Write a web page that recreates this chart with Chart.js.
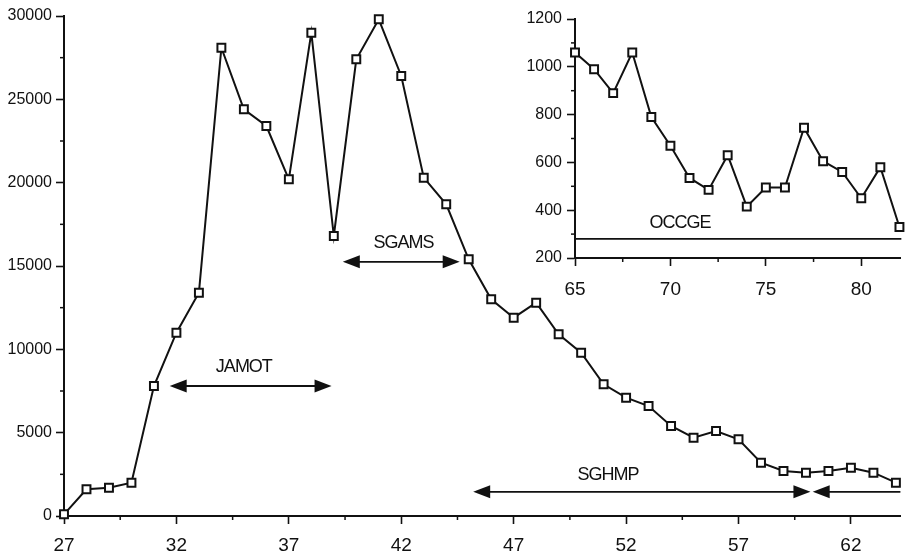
<!DOCTYPE html>
<html>
<head>
<meta charset="utf-8">
<script src="https://cdn.jsdelivr.net/npm/chart.js@4.4.1/dist/chart.umd.min.js"></script>
<style>
  html, body { margin: 0; padding: 0; background: #fff; }
  #wrap { position: relative; width: 908px; height: 556px; }
  #mainChart { position: absolute; left: 0; top: 0; }
  #insetChart { position: absolute; left: 500px; top: 0; }
</style>
</head>
<body>
<div id="wrap">
  <canvas id="mainChart" width="908" height="556"></canvas>
  <canvas id="insetChart" width="408" height="300"></canvas>
</div>
<script>
// main series (years 27..64)
const mainYears = [27, 28, 29, 30, 31, 32, 33, 34, 35, 36, 37, 38, 39, 40, 41, 42, 43, 44, 45,
  46, 47, 48, 49, 50, 51, 52, 53, 54, 55, 56, 57, 58, 59, 60, 61, 62, 63, 64];
const mainCases = [100, 1600, 1700, 2000, 7800, 11000, 13400, 28100, 24400, 23400, 20200, 29000,
  16800, 27400, 29800, 26400, 20300, 18700, 15400, 13000, 11900, 12800, 10900, 9800, 7900, 7100,
  6600, 5400, 4700, 5100, 4600, 3200, 2700, 2600, 2700, 2900, 2600, 2000];
const mainXTicks = [27, 32, 37, 42, 47, 52, 57, 62];

// inset series (years 65..82)
const insetYears = [65, 66, 67, 68, 69, 70, 71, 72, 73, 74, 75, 76, 77, 78, 79, 80, 81, 82];
const insetCases = [1060, 990, 890, 1060, 790, 670, 535, 485, 630, 415, 495, 495, 745, 605, 560,
  450, 580, 330];
const insetXTicks = [65, 70, 75, 80];

// period arrows, in data units
const mainArrows = [
  { from: 31.7, to: 38.9, y: 7800, left: true, right: true },
  { from: 39.4, to: 44.6, y: 15250, left: true, right: true },
  { from: 45.2, to: 60.2, y: 1450, left: true, right: true },
  { from: 60.3, to: 64.2, y: 1450, left: true, right: false },
];
const mainLabels = [
  { text: "JAMOT", x: 35.0, y: 8950 },
  { text: "SGAMS", x: 42.1, y: 16350 },
  { text: "SGHMP", x: 51.2, y: 2480 },
];
const insetArrows = [{ from: 65, to: 82.1, y: 280, left: false, right: false }];
const insetLabels = [{ text: "OCCGE", x: 70.5, y: 348 }];

const INK = "#111";
const FONT = "'Liberation Sans', Arial, sans-serif";

// short outward ticks half way between the labelled ones
const minorTicks = {
  id: "minorTicks",
  afterDraw(chart) {
    const { ctx } = chart;
    ctx.save();
    ctx.strokeStyle = INK;
    ctx.lineWidth = 1.5;
    ["x", "y"].forEach((id) => {
      const s = chart.scales[id];
      const t = s.ticks.map((k) => k.value);
      const step = t[1] - t[0];
      for (let v = t[0] + step / 2; v <= s.max; v += step) {
        const p = s.getPixelForValue(v);
        ctx.beginPath();
        if (id === "x") {
          ctx.moveTo(p, s.top);
          ctx.lineTo(p, s.top + 4);
        } else {
          ctx.moveTo(s.right, p);
          ctx.lineTo(s.right - 4, p);
        }
        ctx.stroke();
      }
    });
    ctx.restore();
  },
};

const arrows = {
  id: "arrows",
  afterDatasetsDraw(chart, args, opts) {
    const { ctx } = chart;
    const x = chart.scales.x, y = chart.scales.y;
    const hl = 17, hh = 6.5;
    ctx.save();
    ctx.strokeStyle = INK;
    ctx.fillStyle = INK;
    ctx.lineWidth = 1.8;
    (opts.items || []).forEach((a) => {
      const x1 = x.getPixelForValue(a.from);
      const x2 = x.getPixelForValue(a.to);
      const py = y.getPixelForValue(a.y);
      ctx.beginPath();
      ctx.moveTo(x1 + (a.left ? hl - 2 : 0), py);
      ctx.lineTo(x2 - (a.right ? hl - 2 : 0), py);
      ctx.stroke();
      if (a.left) {
        ctx.beginPath();
        ctx.moveTo(x1, py);
        ctx.lineTo(x1 + hl, py - hh);
        ctx.lineTo(x1 + hl, py + hh);
        ctx.closePath();
        ctx.fill();
      }
      if (a.right) {
        ctx.beginPath();
        ctx.moveTo(x2, py);
        ctx.lineTo(x2 - hl, py - hh);
        ctx.lineTo(x2 - hl, py + hh);
        ctx.closePath();
        ctx.fill();
      }
    });
    ctx.font = "18px " + FONT;
    ctx.letterSpacing = "-1px";
    ctx.textAlign = "center";
    ctx.textBaseline = "middle";
    (opts.labels || []).forEach((t) => {
      ctx.fillText(t.text, x.getPixelForValue(t.x), y.getPixelForValue(t.y));
    });
    ctx.restore();
  },
};

function lineDataset(xs, ys) {
  return {
    data: xs.map((v, i) => ({ x: v, y: ys[i] })),
    borderColor: INK,
    borderWidth: 2,
    tension: 0,
    clip: false,
    pointStyle: "rect",
    pointRadius: 5.6,
    pointBackgroundColor: "#fff",
    pointBorderColor: INK,
    pointBorderWidth: 2,
  };
}

function axis(extra) {
  return Object.assign({
    grid: { drawOnChartArea: false, color: INK, tickLength: 8, tickWidth: 1.6 },
    border: { display: true, color: INK, width: 2 },
  }, extra);
}

const plain = (v) => String(v);

const mainChart = new Chart(document.getElementById("mainChart").getContext("2d"), {
  type: "line",
  data: { datasets: [lineDataset(mainYears, mainCases)] },
  options: {
    responsive: false,
    animation: false,
    layout: { padding: { top: 16, right: 0, left: 0, bottom: 0 } },
    plugins: {
      legend: { display: false },
      tooltip: { enabled: false },
      arrows: { items: mainArrows, labels: mainLabels },
    },
    scales: {
      x: axis({
        type: "linear",
        min: 27,
        max: 64.2,
        afterBuildTicks: (s) => { s.ticks = mainXTicks.map((v) => ({ value: v })); },
        afterFit: (s) => { s.height = 40; },
        ticks: { color: INK, font: { size: 19, family: FONT }, padding: 10, maxRotation: 0, autoSkip: false, callback: plain },
      }),
      y: axis({
        min: 0,
        max: 30000,
        afterFit: (s) => { s.width = 64; },
        ticks: { stepSize: 5000, color: INK, font: { size: 16, family: FONT }, padding: 4, callback: plain },
      }),
    },
  },
  plugins: [minorTicks, arrows],
});

const insetChart = new Chart(document.getElementById("insetChart").getContext("2d"), {
  type: "line",
  data: { datasets: [lineDataset(insetYears, insetCases)] },
  options: {
    responsive: false,
    animation: false,
    layout: { padding: { top: 19, right: 0, left: 0, bottom: 0 } },
    plugins: {
      legend: { display: false },
      tooltip: { enabled: false },
      arrows: { items: insetArrows, labels: insetLabels },
    },
    scales: {
      x: axis({
        type: "linear",
        min: 65,
        max: 82.05,
        afterBuildTicks: (s) => { s.ticks = insetXTicks.map((v) => ({ value: v })); },
        afterFit: (s) => { s.height = 42; },
        ticks: { color: INK, font: { size: 19, family: FONT }, padding: 12, maxRotation: 0, autoSkip: false, callback: plain },
      }),
      y: axis({
        min: 200,
        max: 1200,
        afterFit: (s) => { s.width = 75; },
        ticks: { stepSize: 200, color: INK, font: { size: 16, family: FONT }, padding: 5, callback: plain },
      }),
    },
  },
  plugins: [minorTicks, arrows],
});
</script>
</body>
</html>
